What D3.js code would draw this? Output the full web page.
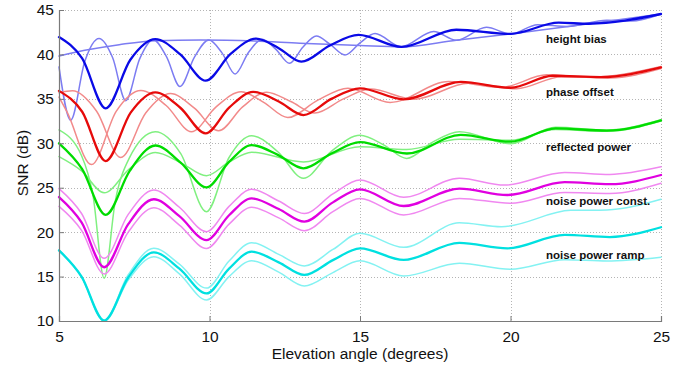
<!DOCTYPE html>
<html>
<head>
<meta charset="utf-8">
<script src="https://cdn.jsdelivr.net/npm/d3@7"></script>
<style>
  html, body { margin: 0; padding: 0; background: #fff; }
  svg { display: block; font-family: "Liberation Sans", Arial, sans-serif; }
</style>
</head>
<body>
<svg id="chart" width="686" height="367"></svg>
<script>
// Axis ticks
const elevationTicks = [5, 10, 15, 20, 25];
const snrTicks = [10, 15, 20, 25, 30, 35, 40, 45];

// SNR (dB) versus elevation angle (deg) as [elevation, snr] pairs.
// Height bias group
const hbMain = [[5, 41.95], [5.77, 39.55], [6.55, 33.94], [7.37, 39.4], [8.2, 41.72], [9.03, 40.0], [9.87, 37.05], [10.7, 40.05], [11.55, 41.78], [12.3, 40.7], [13.05, 39.18], [14.0, 41.0], [14.95, 42.19], [16.38, 40.85], [18.2, 42.78], [20.0, 42.32], [21.6, 43.57], [22.6, 43.45], [25, 44.55]];
const hbFast = [[5, 38.6], [5.39, 32.6], [5.86, 39.25], [6.33, 41.8], [6.78, 39.65], [7.22, 34.8], [7.68, 39.5], [8.13, 41.65], [8.57, 39.75], [9.02, 36.4], [9.5, 39.7], [9.98, 41.62], [10.42, 40.15], [10.85, 37.8], [11.3, 40.25], [11.75, 41.72], [12.2, 40.6], [12.66, 39.0], [13.1, 40.8], [13.55, 42.07], [14.0, 41.15], [14.5, 39.94], [15.0, 41.3], [15.5, 42.35], [16.36, 40.85], [17.45, 42.58], [18.2, 41.6], [19.2, 43.05], [20.0, 42.3], [20.9, 43.35], [21.9, 43.15], [23.2, 43.85], [24.0, 43.75], [25, 44.55]];
const hbSlow = [[5, 39.82], [6, 40.55], [7, 41.1], [8.2, 41.55], [9.7, 41.62], [11.5, 41.5], [13.0, 41.25], [15, 41.0], [16.35, 40.85], [18.2, 41.6], [20, 42.3], [22.3, 43.3], [25, 44.55]];

// Phase offset group
const poMain = [[5, 35.9], [5.77, 33.55], [6.55, 28.0], [7.38, 33.45], [8.2, 35.74], [9.03, 34.0], [9.87, 31.12], [10.66, 34.05], [11.45, 35.78], [12.3, 34.7], [13.12, 33.18], [14.05, 35.0], [15.0, 36.19], [16.45, 34.95], [18.35, 36.9], [20.0, 36.25], [21.4, 37.6], [23.0, 37.45], [25, 38.55]];
const poEarly = [[5, 35.2], [5.27, 33.5], [6.08, 27.6], [6.9, 33.6], [7.72, 35.95], [8.56, 34.25], [9.4, 31.3], [10.22, 34.1], [11.05, 35.8], [11.8, 34.6], [12.6, 32.9], [13.6, 34.85], [14.6, 36.2], [16.0, 34.6], [17.95, 36.95], [19.7, 36.3], [21.2, 37.7], [22.7, 37.45], [25, 38.65]];
const poLate = [[5, 35.7], [5.45, 35.9], [6.25, 33.6], [7.05, 28.4], [7.88, 33.4], [8.7, 35.6], [9.5, 33.95], [10.3, 31.4], [11.1, 34.1], [11.9, 35.75], [12.7, 34.7], [13.5, 33.4], [14.45, 35.0], [15.35, 36.1], [16.8, 34.95], [18.6, 36.75], [20.2, 36.15], [21.7, 37.5], [23.3, 37.35], [25, 38.4]];

// Reflected power group
const rpMain = [[5, 30.0], [5.77, 27.1], [6.55, 21.95], [7.35, 26.9], [8.2, 29.75], [9.05, 27.8], [9.9, 25.04], [10.65, 27.9], [11.4, 29.8], [12.27, 28.7], [13.12, 27.18], [14.05, 28.85], [15.0, 30.12], [16.56, 28.85], [18.35, 30.95], [20.0, 30.18], [21.5, 31.68], [23.2, 31.42], [25, 32.58]];
const rpStrong = [[5, 31.5], [5.75, 28.6], [6.13, 24.1], [6.5, 14.8], [6.87, 23.5], [7.33, 28.3], [8.2, 31.3], [9.05, 28.8], [9.9, 22.3], [10.65, 28.4], [11.4, 30.85], [12.27, 29.05], [13.12, 26.06], [14.05, 29.1], [15.0, 30.9], [15.8, 29.8], [16.55, 28.3], [17.4, 30.1], [18.3, 31.3], [20.0, 29.95], [21.5, 31.8], [23.2, 31.5], [25, 32.65]];
const rpWeak = [[5, 28.5], [5.75, 26.9], [6.5, 24.42], [7.33, 27.1], [8.2, 28.95], [9.05, 27.8], [9.9, 26.35], [10.65, 27.9], [11.4, 29.0], [13.12, 27.9], [15.0, 29.6], [16.55, 29.3], [18.3, 30.45], [20.0, 30.35], [21.5, 31.55], [23.2, 31.35], [25, 32.5]];

// Noise power const. group
const ncMain = [[5, 23.95], [5.75, 21.1], [6.5, 16.05], [7.3, 20.9], [8.15, 23.7], [9.0, 21.8], [9.9, 19.1], [10.65, 21.9], [11.4, 23.8], [12.3, 22.6], [13.15, 21.18], [14.1, 23.35], [15.0, 24.82], [16.45, 22.94], [18.3, 24.9], [19.9, 24.18], [21.8, 25.62], [23.3, 25.4], [25, 26.43]];
const ncHigh = [[5, 24.9], [5.75, 22.1], [6.5, 17.06], [7.3, 22.0], [8.15, 24.74], [9.0, 22.8], [9.9, 20.05], [10.65, 22.9], [11.4, 24.82], [12.3, 23.5], [13.15, 22.1], [14.1, 24.3], [15.0, 25.87], [16.45, 23.92], [18.3, 26.06], [19.8, 25.3], [21.8, 26.72], [23.3, 26.5], [25, 27.35]];
const ncLow = [[5, 22.9], [5.75, 20.2], [6.5, 15.3], [7.3, 20.0], [8.15, 22.75], [9.0, 20.8], [9.9, 18.15], [10.65, 20.9], [11.4, 22.8], [12.3, 21.6], [13.15, 20.16], [14.1, 22.3], [15.0, 23.8], [16.45, 21.93], [18.3, 23.8], [20.0, 23.24], [21.8, 24.45], [23.3, 24.35], [25, 25.5]];

// Noise power ramp group
const nrMain = [[5, 17.95], [5.75, 15.0], [6.5, 10.05], [7.3, 14.9], [8.15, 17.72], [9.0, 15.9], [9.9, 13.1], [10.65, 15.9], [11.4, 17.8], [12.3, 16.6], [13.15, 15.18], [14.1, 16.85], [15.0, 18.18], [16.45, 16.87], [18.3, 18.8], [19.9, 18.18], [21.8, 19.7], [23.3, 19.45], [25, 20.55]];
const nrHigh = [[5, 17.95], [5.75, 15.0], [6.5, 10.1], [7.3, 15.2], [8.15, 18.18], [9.0, 16.4], [9.9, 13.7], [10.65, 16.75], [11.4, 18.82], [12.3, 17.5], [13.15, 16.2], [14.1, 18.05], [15.0, 19.87], [16.45, 18.29], [18.3, 21.05], [19.7, 20.6], [22.0, 22.45], [23.2, 22.5], [25, 23.7]];
const nrLow = [[5, 17.95], [5.75, 14.9], [6.5, 10.0], [7.3, 14.6], [8.15, 17.24], [9.0, 15.3], [9.9, 12.36], [10.65, 15.0], [11.4, 16.78], [12.3, 15.5], [13.15, 13.94], [14.1, 15.45], [15.0, 16.78], [16.45, 15.07], [18.3, 16.5], [20.0, 15.82], [21.8, 16.9], [23.2, 16.75], [25, 17.18]];

// Group captions
const groupNames = ["height bias", "phase offset", "reflected power", "noise power const.", "noise power ramp"];
const groupNameSnr = [41.3, 35.3, 29.1, 23.1, 17.0];

// Plot styling for each group: pale variants first, the reference run on top
const palette = [
  { dark: "#0a0ae6", light: "#7c7cf2" },
  { dark: "#e60a0a", light: "#f28a8a" },
  { dark: "#00dc00", light: "#80f080" },
  { dark: "#e000e0", light: "#f088f0" },
  { dark: "#00e0e0", light: "#84f2f2" }
];
const groups = [
  { main: hbMain, variants: [hbSlow, hbFast] },
  { main: poMain, variants: [poEarly, poLate] },
  { main: rpMain, variants: [rpWeak, rpStrong] },
  { main: ncMain, variants: [ncHigh, ncLow] },
  { main: nrMain, variants: [nrHigh, nrLow] }
];

const svg = d3.select("#chart");
const plotLeft = 59, plotRight = 661, plotTop = 10, plotBottom = 321;

const x = d3.scaleLinear().domain([5, 25]).range([plotLeft, plotRight]);
const y = d3.scaleLinear().domain([10, 45]).range([plotBottom, plotTop]);

// Dotted grid
const grid = svg.append("g").attr("stroke", "#b4b4b4").attr("stroke-width", 1).attr("stroke-dasharray", "1,2");
grid.selectAll("line.v").data(elevationTicks).join("line").attr("class", "v")
  .attr("x1", d => Math.round(x(d)) + 0.5).attr("x2", d => Math.round(x(d)) + 0.5)
  .attr("y1", plotTop).attr("y2", plotBottom);
grid.selectAll("line.h").data(snrTicks).join("line").attr("class", "h")
  .attr("y1", d => Math.round(y(d)) + 0.5).attr("y2", d => Math.round(y(d)) + 0.5)
  .attr("x1", plotLeft).attr("x2", plotRight);

// Curves
const line = d3.line()
  .x(d => x(d[0]))
  .y(d => y(d[1]))
  .curve(d3.curveMonotoneX);

const curves = svg.append("g").attr("fill", "none").attr("stroke-linejoin", "round").attr("stroke-linecap", "round");
groups.forEach((g, i) => {
  g.variants.forEach(v => {
    curves.append("path").attr("d", line(v))
      .attr("stroke", palette[i].light).attr("stroke-width", 1.5);
  });
});
groups.forEach((g, i) => {
  curves.append("path").attr("d", line(g.main))
    .attr("stroke", palette[i].dark).attr("stroke-width", 2.3);
});

// Axes (ticks point inward)
const xAxis = d3.axisBottom(x).tickValues(elevationTicks).tickSize(-5).tickPadding(10);
const yAxis = d3.axisLeft(y).tickValues(snrTicks).tickSize(-5).tickPadding(5);

const gx = svg.append("g").attr("transform", `translate(0,${plotBottom})`).call(xAxis);
const gy = svg.append("g").attr("transform", `translate(${plotLeft},0)`).call(yAxis);
[gx, gy].forEach(g => {
  g.select(".domain").attr("stroke", "#7a7a7a").attr("stroke-width", 1.2);
  g.selectAll(".tick line").attr("stroke", "#7a7a7a");
  g.selectAll(".tick text").attr("fill", "#111")
    .style("font-size", "15.5px").style("font-family", "'Liberation Sans', Arial, sans-serif");
});

// Axis titles
svg.append("text")
  .attr("x", 360).attr("y", 358.5)
  .attr("text-anchor", "middle")
  .attr("fill", "#111")
  .style("font-size", "15.5px")
  .text("Elevation angle (degrees)");
svg.append("text")
  .attr("transform", "translate(28,163) rotate(-90)")
  .attr("text-anchor", "middle")
  .attr("fill", "#111")
  .style("font-size", "15.5px")
  .text("SNR (dB)");

// Group captions
svg.append("g").selectAll("text").data(groupNames).join("text")
  .attr("x", 546)
  .attr("y", (d, i) => y(groupNameSnr[i]))
  .attr("fill", "#111")
  .style("font-size", "11.5px")
  .style("font-weight", "bold")
  .text(d => d);
</script>
</body>
</html>
